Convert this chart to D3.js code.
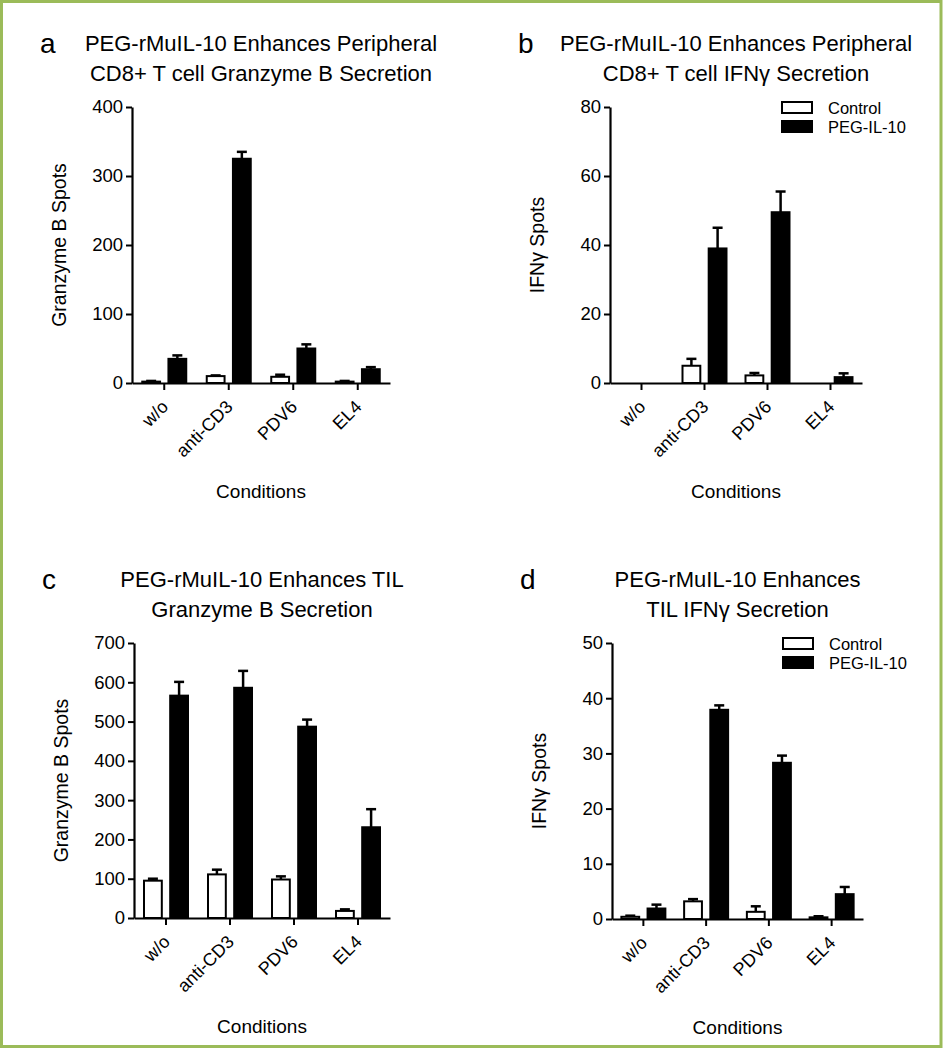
<!DOCTYPE html>
<html>
<head>
<meta charset="utf-8">
<script src="https://cdn.jsdelivr.net/npm/d3@7"></script>
<style>
  html, body { margin: 0; padding: 0; background: #fff; }
  svg { display: block; }
  text { font-family: "Liberation Sans", Arial, sans-serif; fill: #000; }
</style>
</head>
<body>
<svg id="chart" width="944" height="1050"></svg>
<script>
// ---------- data ----------
const categories = ["w/o", "anti-CD3", "PDV6", "EL4"];
const seriesNames = ["Control", "PEG-IL-10"];

// Panel a: peripheral CD8+ Granzyme B
const aControl    = [2, 10, 9, 2];
const aControlErr = [1, 1, 3, 1];
const aPeg        = [35, 325, 50, 20];
const aPegErr     = [5, 10, 6, 3];
const aTicks      = [0, 100, 200, 300, 400];

// Panel b: peripheral CD8+ IFNγ
const bControl    = [0, 5, 2.2, 0];
const bControlErr = [0, 2, 0.7, 0];
const bPeg        = [0, 39, 49.5, 1.7];
const bPegErr     = [0, 6, 6, 1.1];
const bTicks      = [0, 20, 40, 60, 80];

// Panel c: TIL Granzyme B
const cControl    = [95, 111, 98, 18];
const cControlErr = [5, 12, 8, 4];
const cPeg        = [566, 586, 487, 231];
const cPegErr     = [35, 43, 18, 46];
const cTicks      = [0, 100, 200, 300, 400, 500, 600, 700];

// Panel d: TIL IFNγ
const dControl    = [0.4, 3.2, 1.3, 0.3];
const dControlErr = [0.2, 0.4, 1.0, 0.2];
const dPeg        = [1.9, 37.9, 28.3, 4.5];
const dPegErr     = [0.7, 0.8, 1.3, 1.3];
const dTicks      = [0, 10, 20, 30, 40, 50];

const panelLetters = ["a", "b", "c", "d"];
const panelTitles = [
  ["PEG-rMuIL-10 Enhances Peripheral", "CD8+ T cell Granzyme B Secretion"],
  ["PEG-rMuIL-10 Enhances Peripheral", "CD8+ T cell IFNγ Secretion"],
  ["PEG-rMuIL-10 Enhances TIL", "Granzyme B Secretion"],
  ["PEG-rMuIL-10 Enhances", "TIL IFNγ Secretion"]
];
const yTitles = ["Granzyme B Spots", "IFNγ Spots", "Granzyme B Spots", "IFNγ Spots"];
const xTitle = "Conditions";

// ---------- drawing ----------
const svg = d3.select("#chart");

// green frame
svg.append("rect")
  .attr("x", 1.5).attr("y", 1.5)
  .attr("width", 939.5).attr("height", 1045)
  .attr("fill", "none").attr("stroke", "#9bbb59").attr("stroke-width", 3);

const layouts = [
  { x0: 132, x1: 390, yTop: 107, yBot: 383, legend: false },
  { x0: 610, x1: 862, yTop: 107, yBot: 383, legend: true },
  { x0: 134, x1: 390, yTop: 643, yBot: 918, legend: false },
  { x0: 612, x1: 863, yTop: 643, yBot: 919, legend: true }
];

const panels = [
  { ctrl: aControl, ctrlErr: aControlErr, peg: aPeg, pegErr: aPegErr, ticks: aTicks },
  { ctrl: bControl, ctrlErr: bControlErr, peg: bPeg, pegErr: bPegErr, ticks: bTicks },
  { ctrl: cControl, ctrlErr: cControlErr, peg: cPeg, pegErr: cPegErr, ticks: cTicks },
  { ctrl: dControl, ctrlErr: dControlErr, peg: dPeg, pegErr: dPegErr, ticks: dTicks }
];

panels.forEach((p, i) => {
  const L = layouts[i];
  const g = svg.append("g");
  const x = d3.scaleBand().domain(categories).range([L.x0, L.x1]).padding(0);
  const xs = d3.scaleBand().domain(seriesNames).range([-22, 22]).paddingInner(0.32);
  const y = d3.scaleLinear().domain([0, d3.max(p.ticks)]).range([L.yBot, L.yTop]);

  const rows = categories.map((c, k) => ({
    cat: c,
    vals: [
      { s: seriesNames[0], v: p.ctrl[k], e: p.ctrlErr[k] },
      { s: seriesNames[1], v: p.peg[k], e: p.pegErr[k] }
    ]
  }));

  const groups = g.selectAll("g.grp").data(rows).join("g")
    .attr("class", "grp")
    .attr("transform", d => `translate(${x(d.cat) + x.bandwidth() / 2},0)`);

  // error bars (upward only)
  groups.selectAll("g.err").data(d => d.vals.filter(v => v.v > 0 && v.e > 0)).join("g")
    .attr("class", "err")
    .each(function(d) {
      const cx = xs(d.s) + xs.bandwidth() / 2;
      const sel = d3.select(this);
      sel.append("line")
        .attr("x1", cx).attr("x2", cx)
        .attr("y1", y(d.v)).attr("y2", y(d.v + d.e))
        .attr("stroke", "#000").attr("stroke-width", 2.5);
      sel.append("line")
        .attr("x1", cx - 5).attr("x2", cx + 5)
        .attr("y1", y(d.v + d.e)).attr("y2", y(d.v + d.e))
        .attr("stroke", "#000").attr("stroke-width", 2.5);
    });

  // bars
  groups.selectAll("rect.bar").data(d => d.vals.filter(v => v.v > 0)).join("rect")
    .attr("class", "bar")
    .attr("x", d => xs(d.s))
    .attr("width", xs.bandwidth())
    .attr("y", d => y(d.v))
    .attr("height", d => y(0) - y(d.v))
    .attr("fill", d => d.s === seriesNames[0] ? "#fff" : "#000")
    .attr("stroke", "#000")
    .attr("stroke-width", 2);

  // y axis
  const yAxis = g.append("g")
    .attr("transform", `translate(${L.x0},0)`)
    .call(d3.axisLeft(y).tickValues(p.ticks).tickSize(6).tickSizeOuter(0).tickPadding(3).tickFormat(d3.format("d")));
  yAxis.select(".domain").attr("stroke-width", 2.2);
  yAxis.selectAll(".tick line").attr("stroke-width", 2);
  yAxis.selectAll(".tick text").attr("font-size", 18.5).attr("font-family", "Liberation Sans, Arial, sans-serif");

  // x axis
  const xAxis = g.append("g")
    .attr("transform", `translate(0,${L.yBot})`)
    .call(d3.axisBottom(x).tickSize(7).tickSizeOuter(0).tickFormat(""));
  xAxis.select(".domain").attr("stroke-width", 2.2);
  xAxis.selectAll(".tick line").attr("stroke-width", 2);

  // rotated category labels
  g.selectAll("text.cat").data(categories).join("text")
    .attr("class", "cat")
    .attr("text-anchor", "end")
    .attr("font-size", 18)
    .attr("transform", d => `translate(${x(d) + x.bandwidth() / 2 + 5},${L.yBot + 25}) rotate(-45)`)
    .text(d => d);

  const cxPlot = (L.x0 + L.x1) / 2;
  // x title
  g.append("text")
    .attr("x", cxPlot).attr("y", L.yBot + 115)
    .attr("text-anchor", "middle").attr("font-size", 19)
    .text(xTitle);

  // y title
  g.append("text")
    .attr("transform", `translate(${L.x0 - 66},${(L.yTop + L.yBot) / 2}) rotate(-90)`)
    .attr("text-anchor", "middle").attr("font-size", 19.5)
    .text(yTitles[i]);

  // panel title
  g.append("text")
    .attr("x", cxPlot).attr("y", L.yTop - 56)
    .attr("text-anchor", "middle").attr("font-size", 22)
    .text(panelTitles[i][0]);
  g.append("text")
    .attr("x", cxPlot).attr("y", L.yTop - 26)
    .attr("text-anchor", "middle").attr("font-size", 22)
    .text(panelTitles[i][1]);
  g.append("text")
    .attr("x", L.x0 - 92).attr("y", L.yTop - 54)
    .attr("font-size", 28)
    .text(panelLetters[i]);

  // legend
  if (L.legend) {
    const lg = g.append("g").attr("transform", `translate(${L.x1 - 80},${L.yTop - 5})`);
    seriesNames.forEach((s, k) => {
      lg.append("rect")
        .attr("x", 0).attr("y", k * 19)
        .attr("width", 30).attr("height", 11)
        .attr("fill", k === 0 ? "#fff" : "#000")
        .attr("stroke", "#000").attr("stroke-width", 2);
      lg.append("text")
        .attr("x", 46).attr("y", k * 19 + 12)
        .attr("font-size", 16.5)
        .text(s);
    });
  }
});
</script>
</body>
</html>
